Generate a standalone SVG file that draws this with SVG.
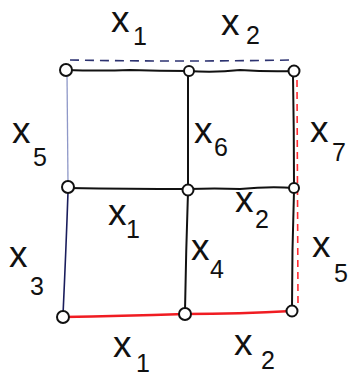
<svg xmlns="http://www.w3.org/2000/svg" width="354" height="376" viewBox="0 0 354 376">
<style>
.e{fill:none;stroke:#111;stroke-width:2;stroke-linecap:round;stroke-linejoin:round}
.red{fill:none;stroke:#f01c22;stroke-width:2.6;stroke-linecap:round}
.rdash{fill:none;stroke:#ff2a30;stroke-width:1.6;stroke-dasharray:7 5}
.bdash{fill:none;stroke:#2c3270;stroke-width:1.6;stroke-dasharray:9 6}
.lblue{fill:none;stroke:#8f98c8;stroke-width:1.3}
.navy{fill:none;stroke:#1a1d5c;stroke-width:1.6}
.n{fill:#fff;stroke:#111;stroke-width:2}
.v{font-family:"Liberation Sans",Arial,sans-serif;font-size:37px;fill:#111}
.s{font-family:"Liberation Sans",Arial,sans-serif;font-size:25px;fill:#111}
</style>
<rect width="354" height="376" fill="#fff"/>
<g id="connectors">
<path class="bdash" d="M70 60 Q180 62 291 60"/>
<path class="rdash" d="M297 80 L298 305"/>
<path class="e" d="M66 70 Q100 71 130 70 Q160 71 188 71"/>
<path class="e" d="M188 71 Q215 73 240 70 Q270 72 294 71"/>
<path class="e" d="M68 188 Q130 189 188 189"/>
<path class="e" d="M188 189 Q215 188 240 189 Q270 186 294 188"/>
<path class="red" d="M63 317 Q120 316 185 314"/>
<path class="red" d="M185 314 Q240 314 292 311"/>
<path class="lblue" d="M67 73 L68 184"/>
<path class="navy" d="M68 192 Q66 250 63 315"/>
<path class="e" d="M188 74 L188 186"/>
<path class="e" d="M188 192 Q186 250 185 311"/>
<path class="e" d="M293 76 Q294 130 294 185"/>
<path class="e" d="M294 191 Q292 250 292 308"/>
</g>
<g id="n1"><circle class="n" cx="66" cy="70" r="6"/></g>
<g id="n2"><circle class="n" cx="189" cy="71" r="5"/></g>
<g id="n3"><circle class="n" cx="294" cy="71" r="5.5"/></g>
<g id="n4"><circle class="n" cx="68" cy="187" r="6"/></g>
<g id="n5"><circle class="n" cx="188" cy="190" r="5.5"/></g>
<g id="n6"><circle class="n" cx="294" cy="188" r="5"/></g>
<g id="n7"><circle class="n" cx="63" cy="317" r="6"/></g>
<g id="n8"><circle class="n" cx="185" cy="314" r="6"/></g>
<g id="n9"><circle class="n" cx="292" cy="311" r="5.5"/></g>
<g id="labels">
<text class="v" x="111" y="32">x</text><text class="s" x="133" y="45">1</text>
<text class="v" x="221" y="35">x</text><text class="s" x="246" y="44">2</text>
<text class="v" x="12" y="143">x</text><text class="s" x="33" y="166">5</text>
<text class="v" x="9" y="267">x</text><text class="s" x="30" y="295">3</text>
<text class="v" x="194" y="143">x</text><text class="s" x="214" y="156">6</text>
<text class="v" x="310" y="142">x</text><text class="s" x="332" y="161">7</text>
<text class="v" x="108" y="225">x</text><text class="s" x="126" y="238">1</text>
<text class="v" x="235" y="212">x</text><text class="s" x="255" y="228">2</text>
<text class="v" x="191" y="260">x</text><text class="s" x="210" y="278">4</text>
<text class="v" x="312" y="257">x</text><text class="s" x="334" y="282">5</text>
<text class="v" x="113" y="357">x</text><text class="s" x="136" y="372">1</text>
<text class="v" x="234" y="355">x</text><text class="s" x="261" y="369">2</text>
</g>
</svg>
